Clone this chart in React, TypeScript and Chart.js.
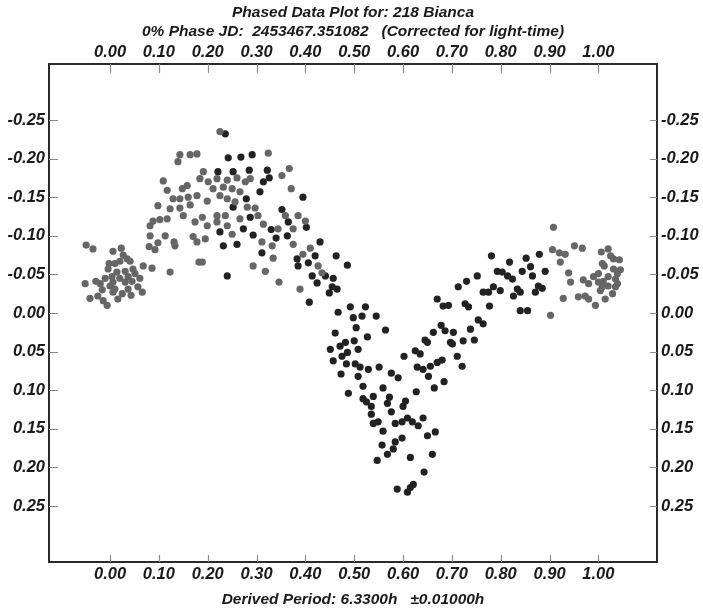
import React, { useEffect, useRef } from "react";
import { Chart, registerables } from "chart.js";

Chart.register(...registerables);

const titleLine1 = "Phased Data Plot for: 218 Bianca";
const titleLine2 = "0% Phase JD:  2453467.351082   (Corrected for light-time)";
const footerText = "Derived Period: 6.3300h   \u00b10.01000h";

const xTicks = [0, 0.1, 0.2, 0.3, 0.4, 0.5, 0.6, 0.7, 0.8, 0.9, 1.0];
const yTicks = [-0.25, -0.2, -0.15, -0.1, -0.05, 0, 0.05, 0.1, 0.15, 0.2, 0.25];
const xMin = -0.125;
const xMax = 1.12;
const yMin = -0.3225;
const yMax = 0.3225;

// Gray session points: phase / magnitude
const grayPhase = [
  -0.049, -0.035, 0.006, 0.023, 0.027, 0.035, 0.041, -0.002, 0.010, -0.004, 0.031, 0.047, 0.051, 0.014, 0.004,
  -0.010, 0.020, 0.037, 0.045, 0.031, 0.006, -0.029, -0.020, -0.051, 0.000, 0.010, 0.037, 0.057, 0.066, 0.006,
  0.025, 0.016, -0.025, -0.041, -0.014, -0.006, 0.068, 0.086, 0.123, 0.080, 0.092, 0.098, 0.113, 0.131, 0.133,
  0.082, 0.082, 0.088, 0.117, 0.174, 0.170, 0.178, 0.182, 0.102, 0.020, -0.016, 0.043, 0.061,
  0.139, 0.143, 0.164, 0.178, 0.109, 0.117, 0.148, 0.158, 0.129, 0.143, 0.160, 0.178, 0.098, 0.123, 0.143,
  0.164, 0.150, 0.225, 0.191, 0.184, 0.201, 0.219, 0.240, 0.260, 0.277, 0.211, 0.232, 0.250, 0.266, 0.199,
  0.225, 0.240, 0.256, 0.281, 0.189, 0.219, 0.236, 0.266, 0.199, 0.219, 0.240, 0.195, 0.250, 0.189,
  0.324, 0.367, 0.287, 0.352, 0.371, 0.297, 0.303, 0.359, 0.385, 0.400, 0.314, 0.344, 0.375, 0.311, 0.332,
  0.375, 0.334, 0.395, 0.410, 0.426, 0.293, 0.318, 0.434, 0.346, 0.389,
  0.908, 0.906, 0.920, 0.932, 0.922, 0.951, 0.967, 0.939, 0.943, 0.928, 0.959, 0.973, 0.980, 0.994, 0.902,
  0.969, 0.980, 0.990, 1.000, 1.006, 1.008, 1.010, 1.020, 1.025, 1.031, 1.043, 1.012, 1.031, 1.045, 1.020,
  1.035, 1.039, 1.020, 1.035, 1.004, 1.014, 1.029, 1.039, 1.000, 1.008,
];
const grayMag = [
  -0.088, -0.083, -0.080, -0.084, -0.075, -0.070, -0.067, -0.064, -0.064, -0.057, -0.054, -0.057, -0.051, -0.053, -0.047,
  -0.045, -0.045, -0.047, -0.041, -0.040, -0.040, -0.041, -0.038, -0.038, -0.035, -0.031, -0.031, -0.034, -0.027, -0.027,
  -0.025, -0.018, -0.022, -0.019, -0.016, -0.010, -0.061, -0.058, -0.053, -0.086, -0.082, -0.091, -0.100, -0.092, -0.087,
  -0.100, -0.113, -0.119, -0.122, -0.118, -0.099, -0.092, -0.066, -0.121, -0.067, -0.030, -0.023, -0.045,
  -0.196, -0.205, -0.205, -0.206, -0.171, -0.159, -0.161, -0.165, -0.148, -0.148, -0.150, -0.152, -0.139, -0.135, -0.136,
  -0.140, -0.126, -0.235, -0.183, -0.174, -0.170, -0.174, -0.172, -0.175, -0.170, -0.161, -0.163, -0.161, -0.157, -0.145,
  -0.152, -0.148, -0.144, -0.137, -0.124, -0.126, -0.126, -0.122, -0.113, -0.118, -0.113, -0.096, -0.102, -0.066,
  -0.207, -0.187, -0.174, -0.178, -0.161, -0.136, -0.126, -0.126, -0.126, -0.119, -0.115, -0.109, -0.109, -0.092, -0.087,
  -0.089, -0.071, -0.076, -0.084, -0.061, -0.061, -0.054, -0.052, -0.040, -0.031,
  -0.111, -0.082, -0.078, -0.076, -0.066, -0.087, -0.084, -0.052, -0.040, -0.019, -0.021, -0.022, -0.018, -0.010, 0.003,
  -0.043, -0.038, -0.047, -0.051, -0.079, -0.064, -0.041, -0.083, -0.074, -0.070, -0.069, -0.061, -0.057, -0.056, -0.047,
  -0.044, -0.051, -0.035, -0.034, -0.029, -0.018, -0.025, -0.038, -0.040, -0.034,
];

// Dark session points: phase / magnitude
const darkPhase = [
  0.236, 0.242, 0.268, 0.221, 0.252, 0.285, 0.279, 0.252, 0.273, 0.225, 0.260, 0.232, 0.240,
  0.291, 0.322, 0.314, 0.326, 0.307, 0.395, 0.352, 0.287, 0.365, 0.330, 0.402, 0.293, 0.340, 0.363, 0.430, 0.311,
  0.383, 0.420, 0.463, 0.385, 0.406, 0.486, 0.414, 0.441, 0.457, 0.424, 0.455, 0.465, 0.449, 0.408,
  0.467, 0.492, 0.498, 0.516, 0.523, 0.545, 0.670, 0.682, 0.693, 0.727, 0.734, 0.777, 0.840, 0.855,
  0.461, 0.504, 0.527, 0.564, 0.500, 0.482, 0.471, 0.508, 0.486, 0.451, 0.457, 0.475, 0.484, 0.502, 0.512,
  0.529, 0.551, 0.473, 0.508, 0.576, 0.590, 0.602, 0.625, 0.635, 0.645, 0.650, 0.662, 0.678, 0.686, 0.703,
  0.723, 0.738, 0.746, 0.754, 0.764, 0.697, 0.701, 0.629, 0.641, 0.656, 0.670, 0.680, 0.652, 0.711, 0.721,
  0.684, 0.664, 0.627, 0.488, 0.518, 0.539, 0.559, 0.572, 0.518, 0.525, 0.535, 0.568, 0.605, 0.600, 0.576,
  0.535, 0.539, 0.549, 0.584, 0.598, 0.609, 0.619, 0.641, 0.559, 0.631, 0.666, 0.557, 0.584, 0.598, 0.650,
  0.580, 0.568, 0.547, 0.615, 0.660, 0.643, 0.588, 0.609, 0.615, 0.621,
  0.713, 0.730, 0.752,
  0.781, 0.818, 0.852, 0.879, 0.861, 0.844, 0.891, 0.865, 0.793, 0.803, 0.814, 0.824, 0.785, 0.799, 0.834,
  0.840, 0.826, 0.871, 0.877, 0.885, 0.764, 0.775,
];
const darkMag = [
  -0.232, -0.201, -0.202, -0.183, -0.183, -0.185, -0.148, -0.137, -0.109, -0.105, -0.089, -0.087, -0.048,
  -0.205, -0.185, -0.170, -0.175, -0.157, -0.150, -0.134, -0.124, -0.118, -0.108, -0.111, -0.101, -0.097, -0.100, -0.092, -0.078,
  -0.070, -0.074, -0.074, -0.061, -0.065, -0.062, -0.048, -0.048, -0.045, -0.039, -0.034, -0.031, -0.026, -0.014,
  -0.001, -0.008, 0.006, 0.004, -0.008, 0.004, -0.018, -0.009, -0.010, -0.012, -0.008, -0.009, -0.003, -0.003,
  0.026, 0.019, 0.031, 0.022, 0.036, 0.038, 0.043, 0.047, 0.051, 0.047, 0.062, 0.056, 0.066, 0.066, 0.070,
  0.073, 0.070, 0.079, 0.082, 0.078, 0.084, 0.056, 0.049, 0.053, 0.035, 0.038, 0.025, 0.016, 0.023, 0.025,
  0.036, 0.021, 0.035, 0.009, 0.014, 0.038, 0.040, 0.070, 0.073, 0.069, 0.064, 0.061, 0.082, 0.056, 0.069,
  0.089, 0.097, 0.102, 0.104, 0.095, 0.108, 0.097, 0.109, 0.111, 0.115, 0.121, 0.117, 0.114, 0.121, 0.128,
  0.131, 0.143, 0.141, 0.143, 0.141, 0.136, 0.141, 0.136, 0.153, 0.146, 0.154, 0.171, 0.167, 0.162, 0.159,
  0.176, 0.183, 0.191, 0.187, 0.183, 0.206, 0.228, 0.232, 0.226, 0.222,
  -0.034, -0.041, -0.048,
  -0.074, -0.066, -0.071, -0.076, -0.060, -0.054, -0.054, -0.048, -0.054, -0.053, -0.048, -0.044, -0.034, -0.029, -0.031,
  -0.027, -0.022, -0.027, -0.035, -0.032, -0.027, -0.027,
];

const FONT_FAMILY = '"Liberation Sans", Arial, sans-serif';
const TEXT_COLOR = "#1a1a1a";
const FRAME_COLOR = "#2a2a2a";
const TICK_MARK_COLOR = "#8a8a8a";
const GRAY_POINT = "#666666";
const DARK_POINT = "#222222";

const toPoints = (xs: number[], ys: number[]) => xs.map((x, i) => ({ x, y: ys[i] }));
const fmt = (v: number | string) => {
  const n = Number(v);
  const s = n.toFixed(2);
  return s === "-0.00" ? "0.00" : s;
};

const decorPlugin = {
  id: "decor",
  afterDraw(chart: any) {
    const { ctx, chartArea, scales } = chart;
    const { left, right, top, bottom } = chartArea;
    ctx.save();
    // inner tick marks
    ctx.strokeStyle = TICK_MARK_COLOR;
    ctx.lineWidth = 1.2;
    ctx.beginPath();
    xTicks.forEach((v) => {
      const px = Math.round(scales.x.getPixelForValue(v)) + 0.5;
      ctx.moveTo(px, bottom);
      ctx.lineTo(px, bottom - 7);
      const pt = Math.round(scales.x2.getPixelForValue(v)) + 0.5;
      ctx.moveTo(pt, top);
      ctx.lineTo(pt, top + 9);
    });
    yTicks.forEach((v) => {
      const py = Math.round(scales.y.getPixelForValue(v)) + 0.5;
      ctx.moveTo(left, py);
      ctx.lineTo(left + 9, py);
      const pr = Math.round(scales.y2.getPixelForValue(v)) + 0.5;
      ctx.moveTo(right, pr);
      ctx.lineTo(right - 7, pr);
    });
    ctx.stroke();
    // titles
    const cx = (left + right) / 2;
    ctx.fillStyle = TEXT_COLOR;
    ctx.textAlign = "center";
    ctx.textBaseline = "alphabetic";
    ctx.font = `italic bold 15.5px ${FONT_FAMILY}`;
    ctx.fillText(titleLine1, cx, 17);
    ctx.fillText(titleLine2, cx, 36);
    ctx.fillText(footerText, cx, 604);
    ctx.restore();
  },
};

const tickFont = { family: FONT_FAMILY, size: 16.5, style: "italic" as const, weight: "bold" as const };

function makeScale(axis: "x" | "y", position: string, size: number, padding: number, values: number[], min: number, max: number, reverse = false) {
  return {
    type: "linear" as const,
    axis,
    position,
    min,
    max,
    reverse,
    grid: { display: false, drawTicks: false },
    border: { display: true, color: FRAME_COLOR, width: 2 },
    ticks: {
      autoSkip: false,
      maxRotation: 0,
      minRotation: 0,
      padding,
      color: TEXT_COLOR,
      font: tickFont,
      callback: (v: number | string) => fmt(v),
    },
    afterBuildTicks: (scale: any) => {
      scale.ticks = values.map((v) => ({ value: v }));
    },
    afterFit: (scale: any) => {
      if (axis === "x") scale.height = size;
      else scale.width = size;
    },
  };
}

export default function App() {
  const canvasRef = useRef<HTMLCanvasElement | null>(null);

  useEffect(() => {
    if (!canvasRef.current) return;
    const chart = new Chart(canvasRef.current, {
      type: "scatter",
      data: {
        datasets: [
          {
            label: "gray",
            data: toPoints(grayPhase, grayMag),
            backgroundColor: GRAY_POINT,
            borderWidth: 0,
            pointRadius: 3.6,
            xAxisID: "x",
            yAxisID: "y",
          },
          {
            label: "dark",
            data: toPoints(darkPhase, darkMag),
            backgroundColor: DARK_POINT,
            borderWidth: 0,
            pointRadius: 3.6,
            xAxisID: "x",
            yAxisID: "y",
          },
        ],
      },
      options: {
        responsive: false,
        animation: false,
        devicePixelRatio: 1,
        layout: { padding: 0 },
        plugins: { legend: { display: false }, tooltip: { enabled: false }, title: { display: false } },
        scales: {
          x: makeScale("x", "bottom", 47, 3, xTicks, xMin, xMax),
          x2: makeScale("x", "top", 64, 2, xTicks, xMin, xMax),
          y: makeScale("y", "left", 49, 4, yTicks, yMin, yMax, true),
          y2: makeScale("y", "right", 46, 4, yTicks, yMin, yMax, true),
        } as any,
      },
      plugins: [decorPlugin],
    });
    return () => chart.destroy();
  }, []);

  return (
    <div style={{ position: "fixed", left: 0, top: 0, width: 703, height: 609, background: "#fff" }}>
      <canvas ref={canvasRef} width={703} height={609} style={{ display: "block" }} />
    </div>
  );
}
